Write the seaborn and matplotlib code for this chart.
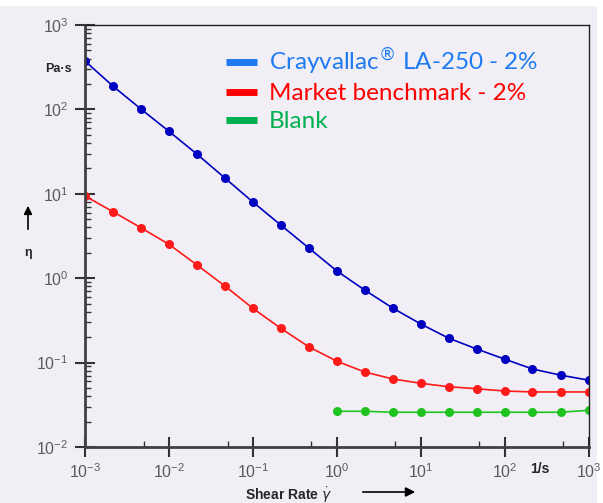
import numpy as np
import pandas as pd
import seaborn as sns
import matplotlib.pyplot as plt
from matplotlib.lines import Line2D
from matplotlib.patches import Rectangle
from matplotlib.ticker import LogLocator, NullFormatter


# shear rate, 3 points per decade
shear_rate = [1e-3, 2.15e-3, 4.64e-3, 1e-2, 2.15e-2, 4.64e-2, 1e-1, 2.15e-1, 4.64e-1,
              1e0, 2.15e0, 4.64e0, 1e1, 2.15e1, 4.64e1, 1e2, 2.15e2, 4.64e2, 1e3]
blank_rate = shear_rate[9:]

crayvallac = [374, 189, 101, 55, 29.6, 15.4, 8.0, 4.27, 2.28,
              1.22, 0.724, 0.443, 0.287, 0.195, 0.145, 0.110, 0.084, 0.071, 0.062]
benchmark = [9.42, 6.14, 3.96, 2.52, 1.44, 0.809, 0.44, 0.255, 0.154,
             0.104, 0.0774, 0.064, 0.0569, 0.0518, 0.049, 0.0461, 0.0449, 0.0449, 0.0449]
blank = [0.0265, 0.0265, 0.0258, 0.0258, 0.0258, 0.0258, 0.0258, 0.0258, 0.0258, 0.0272]

labels = ["Crayvallac$^{®}$ LA-250 - 2%", "Market benchmark - 2%", "Blank"]
line_colors = ["#0000c0", "#ff1a1a", "#1ec31e"]
legend_colors = ["#1f7bf2", "#ff0000", "#00b050"]

df = pd.concat([
    pd.DataFrame({"rate": shear_rate, "eta": crayvallac, "sample": labels[0]}),
    pd.DataFrame({"rate": shear_rate, "eta": benchmark, "sample": labels[1]}),
    pd.DataFrame({"rate": blank_rate, "eta": blank, "sample": labels[2]}),
])

bg = "#f1eff5"
sns.set_style("white")
plt.rcParams["font.family"] = ["Liberation Sans", "DejaVu Sans"]

fig = plt.figure(figsize=(6.03, 5.03), dpi=100, facecolor="white")
fig.patches.append(Rectangle((0, 0), 597 / 603, 1 - 6 / 503, transform=fig.transFigure,
                             facecolor=bg, edgecolor="none", zorder=-10))
ax = fig.add_axes([85 / 603, 1 - 447 / 503, 503.5 / 603, 422 / 503])
ax.set_facecolor(bg)

sns.lineplot(data=df, x="rate", y="eta", hue="sample", palette=line_colors,
             marker="o", markersize=6.5, markeredgewidth=0, linewidth=1.2,
             legend=False, ax=ax)

ax.set_xscale("log")
ax.set_yscale("log")
ax.set_xlim(1e-3, 1e3)
ax.set_ylim(1e-2, 1e3)

ax.xaxis.set_minor_locator(LogLocator(base=10, subs=[5]))
ax.yaxis.set_minor_locator(LogLocator(base=10, subs=np.arange(2, 10)))
ax.xaxis.set_minor_formatter(NullFormatter())
ax.yaxis.set_minor_formatter(NullFormatter())
ax.tick_params(axis="both", which="both", bottom=True, left=True, top=False, right=False)
ax.tick_params(axis="both", which="major", direction="inout", length=14, width=1.5,
               color="#333333", labelsize=11.5, labelcolor="#5a5a5a")
ax.tick_params(axis="x", which="major", pad=4)
ax.tick_params(axis="y", which="major", pad=5)
ax.tick_params(axis="both", which="minor", direction="in", length=4, width=1,
               color="#333333")
ax.set_xlabel("")
ax.set_ylabel("")

for side in ["left", "bottom"]:
    ax.spines[side].set_linewidth(2)
    ax.spines[side].set_color("#404040")
for side in ["top", "right"]:
    ax.spines[side].set_linewidth(1)
    ax.spines[side].set_color("#222222")

handles = [Line2D([], [], color=c, linewidth=5, solid_capstyle="butt") for c in legend_colors]
leg = ax.legend(handles, labels, loc="upper left", bbox_to_anchor=(0.26, 0.975),
                frameon=False, handlelength=1.28, handletextpad=0.5,
                labelspacing=0.28, borderaxespad=0,
                prop={"family": "Lato", "size": 17.5})
for txt, c in zip(leg.get_texts(), legend_colors):
    txt.set_color(c)

# axis annotations
fig.text(45 / 603, 1 - 69 / 503, "Pa·s", fontsize=9, fontweight="bold", va="center")
fig.text(28 / 603, 1 - 253 / 503, "η", fontsize=9, fontweight="bold", va="center", ha="center")
ax.annotate("", xy=(28 / 603, 1 - 203 / 503), xytext=(28 / 603, 1 - 232 / 503),
            xycoords="figure fraction",
            arrowprops=dict(arrowstyle="-|>", color="black", linewidth=1.2,
                            mutation_scale=12))
fig.text(540 / 603, 1 - 469 / 503, "1/s", fontsize=10, fontweight="bold", va="center", ha="center")
fig.text(245 / 603, 1 - 495 / 503, "Shear Rate $\\dot{\\gamma}$", fontsize=10,
         fontweight="bold", va="center")
ax.annotate("", xy=(418 / 603, 1 - 492 / 503), xytext=(360 / 603, 1 - 492 / 503),
            xycoords="figure fraction",
            arrowprops=dict(arrowstyle="-|>", color="black", linewidth=1.2,
                            mutation_scale=14))

fig.savefig("out.png", dpi=100, facecolor="white")
